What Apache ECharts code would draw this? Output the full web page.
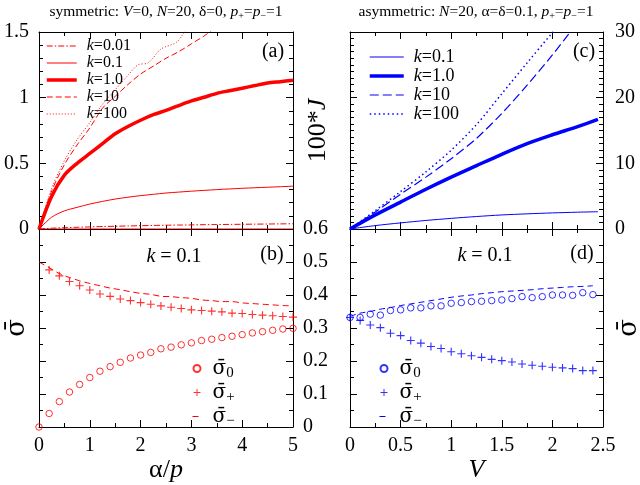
<!DOCTYPE html>
<html>
<head>
<meta charset="utf-8">
<script src="https://cdn.jsdelivr.net/npm/echarts/dist/echarts.min.js"></script>
<style>
html, body { margin: 0; padding: 0; background: #fff; }
#main { width: 640px; height: 485px; }
</style>
</head>
<body>
<div id="main"></div>
<script>
var FONT = 'Liberation Serif';
var SIGFONT = 'DejaVu Serif';
var RED = '#ff0000', BLUE = '#0000ff';

// (a) symmetric case, current vs alpha/p
var aX     = [0, 0.25, 0.5, 0.75, 1, 1.25, 1.5, 1.75, 2, 2.25, 2.5, 2.75, 3, 3.25, 3.5, 3.75, 4, 4.25, 4.5, 4.75, 5];
var aK001  = [0, 0.006, 0.010, 0.013, 0.016, 0.019, 0.021, 0.023, 0.025, 0.027, 0.029, 0.030, 0.031, 0.033, 0.034, 0.035, 0.036, 0.037, 0.038, 0.039, 0.040];
var aK01   = [0, 0.09, 0.138, 0.165, 0.19, 0.21, 0.228, 0.242, 0.254, 0.264, 0.274, 0.281, 0.288, 0.294, 0.300, 0.305, 0.310, 0.314, 0.318, 0.322, 0.326];
var aK1    = [0, 0.25, 0.41, 0.50, 0.575, 0.65, 0.725, 0.78, 0.828, 0.87, 0.903, 0.94, 0.975, 1.003, 1.033, 1.053, 1.072, 1.092, 1.111, 1.122, 1.133];
var aK10X  = [0, 0.25, 0.5, 0.75, 1, 1.25, 1.5, 1.75, 2, 2.25, 2.5, 2.75, 3, 3.25, 3.5];
var aK10   = [0, 0.29, 0.49, 0.64, 0.77, 0.92, 1.01, 1.10, 1.18, 1.24, 1.30, 1.35, 1.41, 1.47, 1.54];
var aK100X = [0, 0.25, 0.5, 0.75, 1, 1.25, 1.5, 1.75, 1.95, 2.15, 2.4, 2.7, 2.85, 3.0];
var aK100  = [0, 0.31, 0.52, 0.68, 0.81, 0.95, 1.06, 1.17, 1.25, 1.265, 1.37, 1.42, 1.49, 1.56];
var aZeroX = [0, 5];
var aZero  = [0, 0];

// (c) asymmetric case, 100*J vs V
var cX     = [0, 0.25, 0.5, 0.75, 1, 1.25, 1.5, 1.75, 2, 2.25, 2.45];
var cK01   = [0, 0.52, 0.93, 1.3, 1.62, 1.9, 2.14, 2.31, 2.45, 2.56, 2.63];
var cK1    = [0, 2.15, 4.1, 6.05, 7.9, 9.65, 11.38, 13.0, 14.35, 15.6, 16.7];
var cK10X  = [0, 0.25, 0.5, 0.75, 1, 1.25, 1.5, 1.75, 2, 2.25];
var cK10   = [0, 2.6, 5.3, 7.9, 10.7, 13.8, 17.6, 21.9, 26.5, 31.5];
var cK100X = [0, 0.25, 0.5, 0.75, 1, 1.25, 1.5, 1.75, 2, 2.1];
var cK100  = [0, 2.8, 5.7, 8.7, 12.0, 15.9, 20.6, 25.3, 29.9, 31.7];

// (b) occupations, k = 0.1, symmetric
var bX     = [0, 0.2, 0.4, 0.6, 0.8, 1, 1.2, 1.4, 1.6, 1.8, 2, 2.2, 2.4, 2.6, 2.8, 3, 3.2, 3.4, 3.6, 3.8, 4, 4.2, 4.4, 4.6, 4.8, 5];
var bSig0  = [0, 0.041, 0.077, 0.106, 0.129, 0.150, 0.169, 0.183, 0.196, 0.209, 0.218, 0.226, 0.237, 0.242, 0.249, 0.255, 0.262, 0.266, 0.271, 0.275, 0.280, 0.285, 0.289, 0.293, 0.297, 0.299];
var bSigP  = [null, 0.476, 0.458, 0.441, 0.428, 0.415, 0.403, 0.396, 0.388, 0.383, 0.377, 0.372, 0.367, 0.363, 0.359, 0.355, 0.353, 0.351, 0.349, 0.345, 0.344, 0.341, 0.339, 0.337, 0.335, 0.333];
var bSigM  = [0.5, 0.483, 0.465, 0.453, 0.443, 0.435, 0.428, 0.421, 0.416, 0.410, 0.405, 0.402, 0.396, 0.395, 0.392, 0.390, 0.385, 0.383, 0.380, 0.380, 0.376, 0.374, 0.372, 0.370, 0.368, 0.367];

// (d) occupations, k = 0.1, asymmetric
var dX     = [0, 0.1, 0.2, 0.3, 0.4, 0.5, 0.6, 0.7, 0.8, 0.9, 1, 1.1, 1.2, 1.3, 1.4, 1.5, 1.6, 1.7, 1.8, 1.9, 2, 2.1, 2.2, 2.3, 2.4];
var dSig0  = [0.332, 0.332, 0.342, 0.339, 0.353, 0.355, 0.361, 0.361, 0.367, 0.367, 0.375, 0.377, 0.380, 0.381, 0.383, 0.385, 0.389, 0.395, 0.392, 0.395, 0.400, 0.400, 0.399, 0.407, 0.401];
var dSigP  = [0.332, 0.323, 0.309, 0.301, 0.284, 0.277, 0.262, 0.254, 0.244, 0.238, 0.228, 0.222, 0.216, 0.211, 0.205, 0.201, 0.197, 0.191, 0.187, 0.184, 0.181, 0.179, 0.177, 0.171, 0.171];
var dSigM  = [0.335, 0.345, 0.350, 0.357, 0.362, 0.368, 0.373, 0.378, 0.383, 0.388, 0.393, 0.397, 0.400, 0.404, 0.407, 0.410, 0.412, 0.414, 0.416, 0.419, 0.421, 0.423, 0.425, 0.426, 0.428];

var legendA = ['a:k=0.01', 'a:k=0.1', 'a:k=1.0', 'a:k=10', 'a:k=100'];
var legendC = ['c:k=0.1', 'c:k=1.0', 'c:k=10', 'c:k=100'];
var legendB = ['b:0', 'b:+', 'b:−'];
var legendD = ['d:0', 'd:+', 'd:−'];

function pairs(xs, ys) {
    return xs.map(function (x, i) { return [x, ys[i]]; });
}

var plus = 'path://M4.3,0H5.7V4.3H10V5.7H5.7V10H4.3V5.7H0V4.3H4.3Z';

function axis(grid, pos, min, max, interval, minor, showLabel, margin) {
    return {
        type: 'value', gridIndex: grid, position: pos,
        min: min, max: max, interval: interval,
        axisLine: { show: true, onZero: false, lineStyle: { color: '#000', width: 1 } },
        axisTick: { show: true, inside: true, length: 7, lineStyle: { color: '#000' } },
        minorTick: { show: true, splitNumber: minor, length: 4, lineStyle: { color: '#000' } },
        splitLine: { show: false },
        axisLabel: { show: showLabel, fontFamily: FONT, fontSize: 20, color: '#000', margin: margin || 9 }
    };
}

var nameRich = {
    n: { fontFamily: FONT, fontSize: 26, color: '#000' },
    i: { fontFamily: FONT, fontSize: 26, fontStyle: 'italic', color: '#000' },
    s: { fontFamily: SIGFONT, fontSize: 26, color: '#000' }
};

var xAxes = [
    axis(0, 'bottom', 0, 5, 1, 2, false),
    axis(0, 'top', 0, 5, 1, 2, false),
    axis(1, 'bottom', 0, 5, 1, 2, true, 9),
    axis(1, 'top', 0, 5, 1, 2, false),
    axis(2, 'bottom', 0, 2.5, 0.5, 2, false),
    axis(2, 'top', 0, 2.5, 0.5, 2, false),
    axis(3, 'bottom', 0, 2.5, 0.5, 2, true, 9),
    axis(3, 'top', 0, 2.5, 0.5, 2, false)
];
xAxes[2].name = '{n|α/}{i|p}';
xAxes[2].nameLocation = 'middle';
xAxes[2].nameGap = 27;
xAxes[2].nameTextStyle = { rich: nameRich };
xAxes[6].name = '{i|V}';
xAxes[6].nameLocation = 'middle';
xAxes[6].nameGap = 25;
xAxes[6].nameTextStyle = { rich: nameRich };

var yAxes = [
    axis(0, 'left', 0, 1.5, 0.5, 5, true, 10),
    axis(0, 'right', 0, 1.5, 0.5, 5, false),
    axis(1, 'left', 0, 0.6, 0.1, 2, false),
    axis(1, 'right', 0, 0.6, 0.1, 2, true, 10),
    axis(2, 'left', 0, 30, 10, 10, false),
    axis(2, 'right', 0, 30, 10, 10, true, 12),
    axis(3, 'left', 0, 0.6, 0.1, 2, false),
    axis(3, 'right', 0, 0.6, 0.1, 2, false)
];
yAxes[2].name = '{s|σ̄}';
yAxes[2].nameLocation = 'middle';
yAxes[2].nameRotate = 90;
yAxes[2].nameGap = 9;
yAxes[2].nameTextStyle = { rich: nameRich };
yAxes[4].name = '{n|100*}{i|J}';
yAxes[4].nameLocation = 'middle';
yAxes[4].nameRotate = 90;
yAxes[4].nameGap = 19;
yAxes[4].nameTextStyle = { rich: nameRich };
yAxes[7].name = '{s|σ̄}';
yAxes[7].nameLocation = 'middle';
yAxes[7].nameRotate = 90;
yAxes[7].nameGap = 13;
yAxes[7].nameTextStyle = { rich: nameRich };

function line(name, xi, yi, xs, ys, color, width, type) {
    return {
        name: name, type: 'line', xAxisIndex: xi, yAxisIndex: yi,
        data: pairs(xs, ys), symbol: 'none', smooth: 0.3, clip: true,
        lineStyle: { color: color, width: width, type: type },
        itemStyle: { color: color }
    };
}
function rings(name, xi, yi, xs, ys, color) {
    return {
        name: name, type: 'scatter', xAxisIndex: xi, yAxisIndex: yi,
        data: pairs(xs, ys), symbol: 'circle', symbolSize: 6.5, clip: false,
        itemStyle: { color: 'rgba(255,255,255,0)', borderColor: color, borderWidth: 1 }
    };
}
function crosses(name, xi, yi, xs, ys, color) {
    return {
        name: name, type: 'scatter', xAxisIndex: xi, yAxisIndex: yi,
        data: pairs(xs, ys), symbol: plus, symbolSize: 8, clip: false,
        itemStyle: { color: color }
    };
}

var series = [
    line('a:k=0', 0, 0, aZeroX, aZero, RED, 1, 'solid'),
    line('a:k=0.01', 0, 0, aX, aK001, RED, 1, [6, 2, 1.5, 2]),
    line('a:k=0.1', 0, 0, aX, aK01, RED, 1, 'solid'),
    line('a:k=1.0', 0, 0, aX, aK1, RED, 3.5, 'solid'),
    line('a:k=10', 0, 0, aK10X, aK10, RED, 1, [6, 3]),
    line('a:k=100', 0, 0, aK100X, aK100, RED, 1, [1, 2]),

    line('c:k=0.1', 4, 4, cX, cK01, BLUE, 1, 'solid'),
    line('c:k=1.0', 4, 4, cX, cK1, BLUE, 3.5, 'solid'),
    line('c:k=10', 4, 4, cK10X, cK10, BLUE, 1.2, [9, 4]),
    line('c:k=100', 4, 4, cK100X, cK100, BLUE, 1.5, [1.5, 3]),

    rings('b:0', 2, 2, bX, bSig0, RED),
    crosses('b:+', 2, 2, bX, bSigP, RED),
    line('b:−', 2, 2, bX, bSigM, RED, 1, [6, 4]),

    rings('d:0', 6, 6, dX, dSig0, BLUE),
    crosses('d:+', 6, 6, dX, dSigP, BLUE),
    line('d:−', 6, 6, dX, dSigM, BLUE, 1, [6, 4])
];

function kLabel(n) {
    return '{i|k}{n|=' + n.split('=')[1] + '}';
}
function sigLabel(n) {
    return '{s|σ̄}{sub|' + n.split(':')[1] + '}';
}
function kRich(size) {
    return {
        n: { fontFamily: FONT, fontSize: size, lineHeight: size, color: '#000' },
        i: { fontFamily: FONT, fontSize: size, lineHeight: size, fontStyle: 'italic', color: '#000' }
    };
}
var sigRich = {
    s: { fontFamily: SIGFONT, fontSize: 20, lineHeight: 20, color: '#000' },
    sub: { fontFamily: FONT, fontSize: 15, lineHeight: 10, padding: [10, 0, 0, 0], color: '#000' }
};
var hideDot = { opacity: 0 };

// legend entries for plain lines: no marker, series line width kept
function lineItem(n, w) {
    return { name: n, itemStyle: hideDot, lineStyle: { width: w } };
}

var legends = [
    { data: [lineItem(legendA[0], 1), lineItem(legendA[1], 1), lineItem(legendA[2], 3.5),
             lineItem(legendA[3], 1), lineItem(legendA[4], 1)],
      left: 45, top: 38, itemWidth: 30, itemHeight: 10, itemGap: 1,
      formatter: kLabel, textStyle: { padding: [0, 0, 0, 5], rich: kRich(16) } },
    { data: [lineItem(legendC[0], 1), lineItem(legendC[1], 3.5), lineItem(legendC[2], 1.2),
             lineItem(legendC[3], 1.5)],
      left: 368, top: 48, itemWidth: 34, itemHeight: 10, itemGap: 1,
      formatter: kLabel, textStyle: { padding: [0, 0, 0, 5], rich: kRich(18) } },
    { data: [legendB[0], legendB[1], lineItem(legendB[2], 1)],
      left: 192, top: 356, itemWidth: 9, itemHeight: 7, itemGap: -1,
      formatter: sigLabel, textStyle: { padding: [0, 0, 0, 6], rich: sigRich } },
    { data: [legendD[0], legendD[1], lineItem(legendD[2], 1)],
      left: 379, top: 356, itemWidth: 9, itemHeight: 7, itemGap: -1,
      formatter: sigLabel, textStyle: { padding: [0, 0, 0, 6], rich: sigRich } }
];
legends.forEach(function (l) {
    l.orient = 'vertical';
    l.selectedMode = false;
    l.padding = 0;
    l.align = 'left';
});

var titleRich = {
    n: { fontFamily: FONT, fontSize: 15.5, color: '#000' },
    i: { fontFamily: FONT, fontSize: 15.5, fontStyle: 'italic', color: '#000' },
    sub: { fontFamily: FONT, fontSize: 10, lineHeight: 10, padding: [8, 0, 0, 0], color: '#000' }
};
var panelRich = {
    n: { fontFamily: FONT, fontSize: 20, color: '#000' },
    i: { fontFamily: FONT, fontSize: 20, fontStyle: 'italic', color: '#000' }
};

function label(x, y, text, rich) {
    return {
        type: 'text', x: x, y: y, z: 100,
        style: { text: text, rich: rich, align: 'center', verticalAlign: 'middle',
                 fontFamily: FONT, fontSize: 20, fill: '#000' }
    };
}

var myChart = echarts.init(document.getElementById('main'), null, { renderer: 'canvas' });

myChart.setOption({
    animation: false,
    backgroundColor: '#fff',
    grid: [
        { left: 39, top: 32, width: 254, height: 197, outerBoundsMode: 'none' },
        { left: 39, top: 229, width: 254, height: 198, outerBoundsMode: 'none' },
        { left: 350, top: 32, width: 253, height: 197, outerBoundsMode: 'none' },
        { left: 350, top: 229, width: 253, height: 198, outerBoundsMode: 'none' }
    ],
    xAxis: xAxes,
    yAxis: yAxes,
    legend: legends,
    series: series,
    graphic: [
        label(166, 12, '{n|symmetric: }{i|V}{n|=0, }{i|N}{n|=20, δ=0, }{i|p}{sub|+}{n|=}{i|p}{sub|−}{n|=1}', titleRich),
        label(476, 12, '{n|asymmetric: }{i|N}{n|=20, α=δ=0.1, }{i|p}{sub|+}{n|=}{i|p}{sub|−}{n|=1}', titleRich),
        label(273, 52, '{n|(a)}', panelRich),
        label(272, 255, '{n|(b)}', panelRich),
        label(584, 52, '{n|(c)}', panelRich),
        label(582, 254, '{n|(d)}', panelRich),
        label(174, 257, '{i|k}{n| = 0.1}', panelRich),
        label(485, 256, '{i|k}{n| = 0.1}', panelRich)
    ]
});

window.onresize = myChart.resize;
</script>
</body>
</html>
